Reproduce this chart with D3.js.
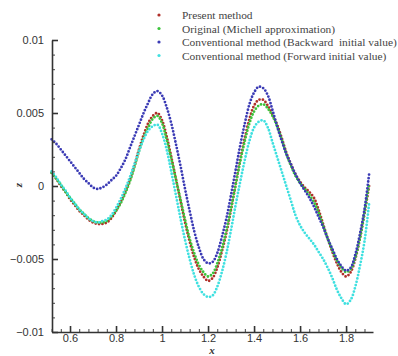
<!DOCTYPE html>
<html>
<head>
<meta charset="utf-8">
<script src="https://cdn.jsdelivr.net/npm/d3@7"></script>
<style>
  body { margin: 0; background: #fff; }
  svg { display: block; }
</style>
</head>
<body>
<div id="chart"></div>
<script>
// sample positions along x
const xs = [0.52, 0.54, 0.56, 0.58, 0.60, 0.62, 0.64, 0.66, 0.68, 0.70,
            0.72, 0.74, 0.76, 0.78, 0.80, 0.82, 0.84, 0.86, 0.88, 0.90,
            0.92, 0.94, 0.96, 0.98, 1.00, 1.02, 1.04, 1.06, 1.08, 1.10,
            1.12, 1.14, 1.16, 1.18, 1.20, 1.22, 1.24, 1.26, 1.28, 1.30,
            1.32, 1.34, 1.36, 1.38, 1.40, 1.42, 1.44, 1.46, 1.48, 1.50,
            1.52, 1.54, 1.56, 1.58, 1.60, 1.62, 1.64, 1.66, 1.68, 1.70,
            1.72, 1.74, 1.76, 1.78, 1.80, 1.82, 1.84, 1.86, 1.88, 1.90];

const present = [0.0009, 0.0005, 0.0000, -0.0004, -0.0009, -0.0013, -0.0017, -0.0020, -0.0023, -0.0025,
                 -0.0026, -0.0026, -0.0025, -0.0022, -0.0017, -0.0011, -0.0004, 0.0004, 0.0014, 0.0025,
                 0.0035, 0.0043, 0.0048, 0.0050, 0.0045, 0.0034, 0.0020, 0.0005, -0.0010, -0.0025,
                 -0.0038, -0.0049, -0.0057, -0.0062, -0.0065, -0.0063, -0.0056, -0.0045, -0.0032, -0.0016,
                 0.0001, 0.0018, 0.0033, 0.0046, 0.0055, 0.0059, 0.0059, 0.0055, 0.0049, 0.0042,
                 0.0033, 0.0023, 0.0015, 0.0008, 0.0003, -0.0001, -0.0004, -0.0008, -0.0016, -0.0026,
                 -0.0036, -0.0045, -0.0053, -0.0059, -0.0062, -0.0059, -0.0050, -0.0036, -0.0019, 0.0000];

const original = [0.0009, 0.0005, 0.0001, -0.0004, -0.0008, -0.0012, -0.0016, -0.0019, -0.0022, -0.0024,
                  -0.0025, -0.0025, -0.0024, -0.0021, -0.0017, -0.0012, -0.0005, 0.0003, 0.0013, 0.0024,
                  0.0033, 0.0040, 0.0046, 0.0048, 0.0043, 0.0032, 0.0019, 0.0005, -0.0009, -0.0023,
                  -0.0036, -0.0046, -0.0054, -0.0059, -0.0062, -0.0060, -0.0053, -0.0043, -0.0030, -0.0015,
                  0.0001, 0.0017, 0.0031, 0.0043, 0.0051, 0.0055, 0.0056, 0.0053, 0.0048, 0.0041,
                  0.0032, 0.0022, 0.0014, 0.0007, 0.0002, -0.0002, -0.0006, -0.0011, -0.0018, -0.0027,
                  -0.0036, -0.0044, -0.0051, -0.0056, -0.0059, -0.0057, -0.0049, -0.0036, -0.0018, 0.0002];

const backward = [0.0032, 0.0029, 0.0025, 0.0021, 0.0017, 0.0013, 0.0009, 0.0005, 0.0002, -0.0001,
                  -0.0002, -0.0001, 0.0001, 0.0004, 0.0007, 0.0012, 0.0018, 0.0026, 0.0034, 0.0042,
                  0.0050, 0.0057, 0.0063, 0.0065, 0.0062, 0.0054, 0.0043, 0.0029, 0.0014, -0.0002,
                  -0.0017, -0.0031, -0.0042, -0.0050, -0.0053, -0.0052, -0.0046, -0.0035, -0.0022, -0.0006,
                  0.0011, 0.0028, 0.0043, 0.0056, 0.0064, 0.0068, 0.0067, 0.0062, 0.0052, 0.0041,
                  0.0031, 0.0022, 0.0015, 0.0008, 0.0002, -0.0003, -0.0008, -0.0014, -0.0021, -0.0028,
                  -0.0036, -0.0043, -0.0050, -0.0055, -0.0058, -0.0056, -0.0047, -0.0033, -0.0016, 0.0008];

const forward = [0.0010, 0.0006, 0.0001, -0.0003, -0.0008, -0.0012, -0.0016, -0.0019, -0.0022, -0.0024,
                 -0.0025, -0.0024, -0.0023, -0.0020, -0.0015, -0.0009, -0.0002, 0.0006, 0.0015, 0.0024,
                 0.0032, 0.0038, 0.0041, 0.0042, 0.0036, 0.0025, 0.0010, -0.0006, -0.0022, -0.0037,
                 -0.0050, -0.0061, -0.0069, -0.0074, -0.0076, -0.0075, -0.0069, -0.0059, -0.0046, -0.0030,
                 -0.0013, 0.0003, 0.0018, 0.0031, 0.0040, 0.0044, 0.0045, 0.0040, 0.0030, 0.0020,
                 0.0010, 0.0000, -0.0010, -0.0020, -0.0027, -0.0032, -0.0036, -0.0040, -0.0045, -0.0050,
                 -0.0056, -0.0063, -0.0071, -0.0077, -0.0081, -0.0078, -0.0069, -0.0055, -0.0038, -0.0012];

const xTicks = [0.6, 0.8, 1, 1.2, 1.4, 1.6, 1.8];
const yTicks = [-0.01, -0.005, 0, 0.005, 0.01];

const series = [
  { name: "Present method", values: present, color: "#b0302a" },
  { name: "Original (Michell approximation)", values: original, color: "#3cc43c" },
  { name: "Conventional method (Backward  initial value)", values: backward, color: "#3b3bb5" },
  { name: "Conventional method (Forward initial value)", values: forward, color: "#40e0e0" }
];

const W = 398, H = 356;
const margin = { top: 40, right: 25, bottom: 24, left: 52 };
const width = W - margin.left - margin.right;
const height = H - margin.top - margin.bottom;

const svg = d3.select("#chart").append("svg")
  .attr("width", W)
  .attr("height", H);

const g = svg.append("g")
  .attr("transform", "translate(" + margin.left + "," + margin.top + ")");

const x = d3.scaleLinear().domain([0.5217, 1.917]).range([0, width]);
const y = d3.scaleLinear().domain([-0.01, 0.01]).range([height, 0]);

// curves, drawn as dotted paths
const line = d3.line()
  .x((d, i) => x(xs[i]))
  .y(d => y(d))
  .curve(d3.curveCatmullRom);

g.selectAll(".curve")
  .data(series)
  .enter()
  .append("path")
    .attr("class", "curve")
    .attr("d", d => line(d.values))
    .attr("fill", "none")
    .attr("stroke", d => d.color)
    .attr("stroke-width", 2.8)
    .attr("stroke-linecap", "round")
    .attr("stroke-dasharray", "0 3.4");

// minor ticks
const yMinor = d3.range(-10, 11).map(v => v / 1000);
const xMinor = d3.range(13, 48).map(v => v * 0.04).filter(v => v >= 0.52 && v <= 1.917);

g.append("g")
  .call(d3.axisLeft(y).tickValues(yMinor).tickSize(-3).tickFormat(""))
  .call(a => a.select(".domain").remove())
  .selectAll("line").attr("stroke", "#444");

g.append("g")
  .attr("transform", "translate(0," + height + ")")
  .call(d3.axisBottom(x).tickValues(xMinor).tickSize(-3).tickFormat(""))
  .call(a => a.select(".domain").remove())
  .selectAll("line").attr("stroke", "#444");

// major axes
const yAxis = g.append("g")
  .call(d3.axisLeft(y).tickValues(yTicks).tickSize(-6).tickSizeOuter(0).tickPadding(8)
    .tickFormat(d => d === 0 ? "0" : d3.format("")(+d.toFixed(3))));
const xAxis = g.append("g")
  .attr("transform", "translate(0," + height + ")")
  .call(d3.axisBottom(x).tickValues(xTicks).tickSize(-6).tickSizeOuter(0).tickPadding(2)
    .tickFormat(d3.format("")));

[yAxis, xAxis].forEach(a => {
  a.select(".domain").attr("stroke", "#333").attr("stroke-width", 1.6);
  a.selectAll("line").attr("stroke", "#333").attr("stroke-width", 1.6);
  a.selectAll("text")
    .attr("fill", "#333")
    .style("font-family", "'Liberation Sans', Arial, sans-serif")
    .style("font-size", "11px");
});

// axis titles
svg.append("text")
  .attr("x", 212).attr("y", 354)
  .attr("text-anchor", "middle")
  .style("font-family", "'Liberation Serif', 'Times New Roman', serif")
  .style("font-style", "italic")
  .style("font-weight", "bold")
  .style("font-size", "11px")
  .attr("fill", "#333")
  .text("x");

svg.append("text")
  .attr("transform", "translate(22,185) rotate(-90)")
  .attr("text-anchor", "middle")
  .style("font-family", "'Liberation Serif', 'Times New Roman', serif")
  .style("font-style", "italic")
  .style("font-weight", "bold")
  .style("font-size", "11px")
  .attr("fill", "#333")
  .text("z");

// legend
const legend = svg.append("g").attr("transform", "translate(159,15)");
const item = legend.selectAll(".item")
  .data(series)
  .enter()
  .append("g")
    .attr("transform", (d, i) => "translate(0," + (i * 13.5) + ")");
item.append("circle")
  .attr("r", 1.6)
  .attr("fill", d => d.color);
item.append("text")
  .attr("x", 23)
  .attr("dy", "0.35em")
  .style("font-family", "'Liberation Serif', 'Times New Roman', serif")
  .style("font-size", "11.4px")
  .style("white-space", "pre")
  .attr("fill", "#444")
  .text(d => d.name);
</script>
</body>
</html>
